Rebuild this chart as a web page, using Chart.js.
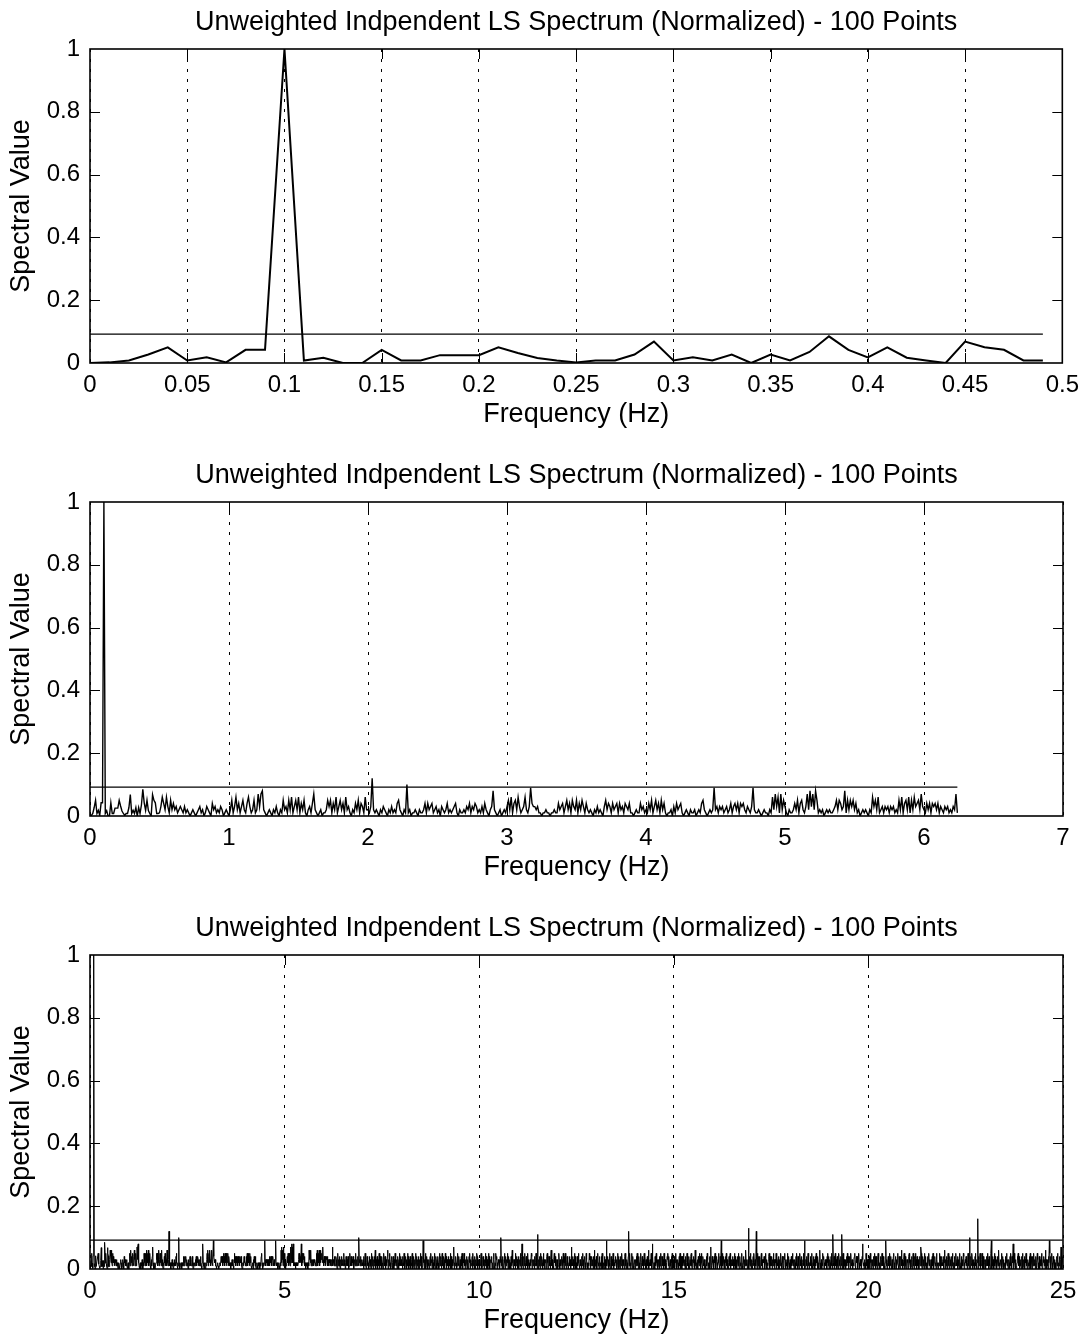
<!DOCTYPE html>
<html>
<head>
<meta charset="utf-8">
<title>Unweighted Indpendent LS Spectrum</title>
<script src="https://cdn.jsdelivr.net/npm/chart.js@4.4.0/dist/chart.umd.min.js"></script>
<style>
  html, body { margin: 0; padding: 0; background: #fff; overflow: hidden; }
  .panel { position: absolute; left: 0; width: 1089px; height: 433px; }
</style>
</head>
<body>
<div class="panel" style="top:0px"><canvas id="chartTop" width="1089" height="433"></canvas></div>
<div class="panel" style="top:453px"><canvas id="chartMid" width="1089" height="433"></canvas></div>
<div class="panel" style="top:906px"><canvas id="chartBot" width="1089" height="433"></canvas></div>
<script>
// ============================================
// data
// ============================================

// spectrum is sampled every 0.01 Hz, same spectrum in all three panels
const FREQ_STEP = 0.01;
const THRESHOLD = 0.092;

// 0 - 0.49 Hz
const lowBand = [
  0, 0.002, 0.008, 0.027, 0.05, 0.008, 0.018, 0.002, 0.042, 0.042,
  1.0, 0.008, 0.017, 0, 0, 0.042, 0.008, 0.008, 0.025, 0.025,
  0.025, 0.05, 0.032, 0.016, 0.008, 0.002, 0.008, 0.008, 0.027, 0.068,
  0.008, 0.018, 0.008, 0.027, 0, 0.027, 0.008, 0.035, 0.085, 0.042,
  0.018, 0.05, 0.017, 0.008, 0, 0.068, 0.05, 0.042, 0.008, 0.008,
];

// 0.5 Hz onward: one char per 0.01 Hz, value in hundredths (base 36, "a" = 0.10)
const highBandRows = [
  "1364263152 4231232131 2101210123 1201321042 3121320121", // 0.5 - 0.99
  "0251362413 5214631251 2737821012 1021310215 2315261352 6142510231 4721012011 2535142613 5241623102 1425143162", // 1
  "213c212102 1321021312 14521021a1 2011210211 2414234123 1203212412 1234102112 1324132431 2131421023 8210120121", // 2
  "3526145263 1236213943 3231101121 1011211423 4135241532 5142531421 2102131210 3524314234 1423143241 1012114231", // 3
  "2142513524 1524101120 3142341012 1021120121 4521012129 2313231231 2413424143 4213213921 1210121102 1627361725", // 4
  "3102112425 1452137283 7285121201 2121123525 4238152535 2412012121 0216352612 3132313231 2152614526 1526345273", // 5
  "2142414342 4132132312 1327132142 1243102513 2410321421 3152130241 2314201352 1421324102 3125132142 1a23142132", // 6
  "2130412531 0241320142 3102514203 1426031240 2315024130 4210352142 0312460231 5120341024 2031542130 1420315241", // 7
  "3120421530 2413025140 3214021350 1240312504 2130420315 2410139240 3150241302 1302415230 4120315024 2031420153", // 8
  "1420351204 3015240231 2403125041 0312470213 4201352140 1320415203 2514031240 3102425031 1240513204 0321540213", // 9
  "2031452013 4120315240 1302514023 3240120531 0215340213 213042a130 4201352041 1325024130 2041362103 3120514230", // 10
  "1402315204 8130241520 2413051302 0312540231 3204125140 b203142051 1420351302 2301452014 4120362130 1035241203", // 11
  "3201452031 1240315204 2513024130 0241302712 4130251402 2041352103 1320415230 3412053120 0215340214 2130426013", // 12
  "1402351204 3120415302 2041302913 4130251024 0231540213 2413025140 1304215302 3120451203 2104c13502 1350241023", // 13
  "2031425130 4120351024 1302514203 0241360213 3150284012 2041352130 1320415204 4213052130 0124351402 2310425013", // 14
  "1403251302 3120415024 2041352130 4102531204 0231451023 2413061302 1304215240 3521042130 2103415302 1240371024", // 15
  "2130425013 4021352104 1290351240 3104251302 0241350213 2413025140 1302415302 4120351024 2031462130 13d0241520", // 16
  "3102415203 21c3052140 1402351302 3240125031 0213452041 2140315230 1325042130 4031252104 2104351302 1350241203", // 17
  "2041352130 1320415204 4102531240 0231529013 3140251302 2413051024 1302415230 4120362103 0215340213 2130425140", // 18
  "132041520b 2140351302 4102531204 21b0452031 1302415240 3241052130 0213451024 2410352103 1302483120 3120541302", // 19
  "2140352013 1302415240 4120351302 0241352140 3102491302 2413052140 1320451203 4031252104 2104361302 1350241023", // 20
  "3201452130 1420351204 2513042130 0241375102 4130251402 2041352130 1320415302 3412053120 0215340241 2130426013", // 21
  "1402351204 3120415302 2041352130 4130251024 0231540213 2413025140 a304215302 3120451203 2g04213502 1350241023", // 22
  "2031425130 4120359024 1302514203 0241360213 3150241302 2041352130 1320415204 4280352130 0124351402 2310425013", // 23
  "1403251302 3120415024 2041352130 4102531204 0231451023 2413061302 1304295240 3521042130 2103415302 1240371024", // 24
];

// axes
const topXTicks = [0, 0.05, 0.1, 0.15, 0.2, 0.25, 0.3, 0.35, 0.4, 0.45, 0.5];
const midXTicks = [0, 1, 2, 3, 4, 5, 6, 7];
const botXTicks = [0, 5, 10, 15, 20, 25];
const yTicks = [0, 0.2, 0.4, 0.6, 0.8, 1];

// how many spectrum points each panel shows
const panelPoints = [50, 625, 2500];

const panelTitle = "Unweighted Indpendent LS Spectrum (Normalized) - 100 Points";
const xLabel = "Frequency (Hz)";
const yLabel = "Spectral Value";

// ============================================
// build the spectrum
// ============================================

const highBand = highBandRows
  .join("")
  .replace(/\s/g, "")
  .split("")
  .map((c) => parseInt(c, 36) / 100);

const spectrum = lowBand.concat(highBand);
const freqs = spectrum.map((_, i) => +(i * FREQ_STEP).toFixed(2));

// ============================================
// matlab style box + inward ticks
// ============================================

const FONT = "'Liberation Sans', Arial, Helvetica, sans-serif";
const TICK_LEN = 10;

const boxPlugin = {
  id: "matlabBox",
  afterDatasetsDraw(chart) {
    const { ctx, chartArea: a, scales } = chart;
    ctx.save();
    ctx.setLineDash([]);
    ctx.strokeStyle = "#000";
    ctx.lineWidth = 1;

    ctx.beginPath();
    scales.y.ticks.forEach((t) => {
      if (t.value <= 0 || t.value >= 1) return;
      const py = Math.round(scales.y.getPixelForValue(t.value)) + 0.5;
      ctx.moveTo(a.left, py);
      ctx.lineTo(a.left + TICK_LEN, py);
      ctx.moveTo(a.right, py);
      ctx.lineTo(a.right - TICK_LEN, py);
    });
    scales.x.ticks.forEach((t) => {
      if (t.value <= scales.x.min || t.value >= scales.x.max) return;
      const px = Math.round(scales.x.getPixelForValue(t.value)) + 0.5;
      ctx.moveTo(px, a.bottom);
      ctx.lineTo(px, a.bottom - TICK_LEN);
      ctx.moveTo(px, a.top);
      ctx.lineTo(px, a.top + TICK_LEN);
    });
    ctx.stroke();

    ctx.lineWidth = 1.6;
    ctx.strokeRect(a.left, a.top, a.right - a.left, a.bottom - a.top);
    ctx.restore();
  },
};

function buildPanel(canvasId, count, xTicks, lineWidth) {
  const pts = [];
  for (let i = 0; i < count; i++) pts.push({ x: freqs[i], y: spectrum[i] });
  const lastF = freqs[count - 1];

  return new Chart(document.getElementById(canvasId), {
    type: "line",
    data: {
      datasets: [
        {
          data: pts,
          borderColor: "#000",
          borderWidth: lineWidth,
          pointRadius: 0,
          tension: 0,
          fill: false,
        },
        {
          // significance level
          data: [
            { x: 0, y: THRESHOLD },
            { x: lastF, y: THRESHOLD },
          ],
          borderColor: "#000",
          borderWidth: 1.3,
          pointRadius: 0,
          fill: false,
        },
      ],
    },
    options: {
      responsive: false,
      animation: false,
      events: [],
      layout: { padding: { left: 0, right: 26, top: 0, bottom: 0 } },
      plugins: {
        legend: { display: false },
        tooltip: { enabled: false },
        title: {
          display: true,
          fullSize: false, // center over the plot box, like the x label
          text: panelTitle,
          color: "#000",
          font: { family: FONT, size: 27, weight: "normal", lineHeight: 1 },
          padding: { top: 9, bottom: 13 },
        },
      },
      scales: {
        x: {
          type: "linear",
          min: xTicks[0],
          max: xTicks[xTicks.length - 1],
          afterBuildTicks: (s) => {
            s.ticks = xTicks.map((v) => ({ value: v }));
          },
          afterFit: (s) => {
            s.height = 70;
          },
          grid: { color: "#000", lineWidth: 1, drawTicks: false },
          border: { display: false, dash: [3, 7] },
          ticks: {
            color: "#000",
            font: { family: FONT, size: 24, lineHeight: 1 },
            padding: 10,
            maxRotation: 0,
            autoSkip: false,
            callback: (v) => String(v),
          },
          title: {
            display: true,
            text: xLabel,
            color: "#000",
            font: { family: FONT, size: 27, lineHeight: 1 },
            padding: { top: 0, bottom: 5 },
          },
        },
        y: {
          min: 0,
          max: 1,
          afterBuildTicks: (s) => {
            s.ticks = yTicks.map((v) => ({ value: v }));
          },
          afterFit: (s) => {
            s.width = 90;
          },
          grid: { display: false, drawTicks: false },
          border: { display: false },
          ticks: {
            color: "#000",
            font: { family: FONT, size: 24, lineHeight: 1 },
            padding: 10,
            callback: (v) => String(v),
          },
          title: {
            display: true,
            text: yLabel,
            color: "#000",
            font: { family: FONT, size: 27, lineHeight: 1 },
            padding: { top: 8, bottom: 0 },
          },
        },
      },
    },
    plugins: [boxPlugin],
  });
}

document.addEventListener("DOMContentLoaded", () => {
  buildPanel("chartTop", panelPoints[0], topXTicks, 2);
  buildPanel("chartMid", panelPoints[1], midXTicks, 1.4);
  buildPanel("chartBot", panelPoints[2], botXTicks, 1);
});
</script>
</body>
</html>
